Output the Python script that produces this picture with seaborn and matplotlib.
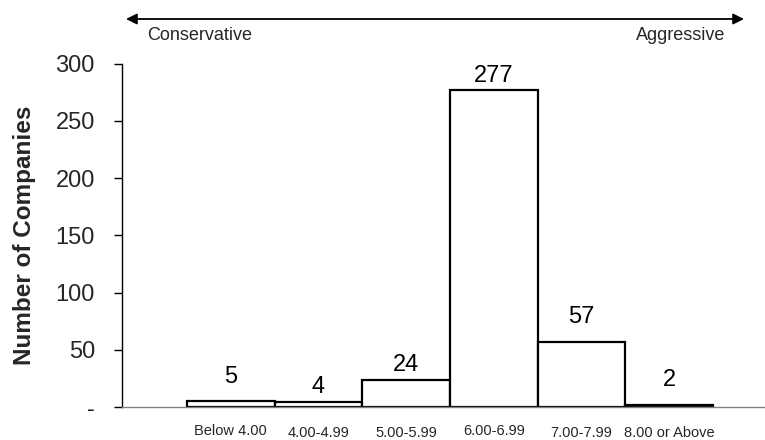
import matplotlib
matplotlib.use("Agg")
import matplotlib.pyplot as plt
from matplotlib.transforms import ScaledTranslation
from matplotlib.ticker import FixedLocator, FixedFormatter
import seaborn as sns
import pandas as pd

# Distribution of companies by assumed return bucket
categories = ["Below 4.00", "4.00-4.99", "5.00-5.99", "6.00-6.99", "7.00-7.99", "8.00 or Above"]
companies = [5, 4, 24, 277, 57, 2]
ytick_values = [0, 50, 100, 150, 200, 250, 300]
ytick_labels = ["-", "50", "100", "150", "200", "250", "300"]

# label placement above each bar (pixels) and per-category label drop (pixels)
value_label_gap = [24, 15, 15, 14, 25, 25]
xlabel_drop = [0, 2, 2, 0, 2, 2]

sns.set_style("white")
plt.rcParams["font.family"] = ["Liberation Sans", "DejaVu Sans"]

DPI = 100
W, H = 765, 440
fig = plt.figure(figsize=(W / DPI, H / DPI), dpi=DPI)
ax = fig.add_axes([122 / W, 1 - 407 / H, (W - 122) / W, (407 - 63.6) / H])

df = pd.DataFrame({"bucket": categories, "count": companies})
sns.barplot(data=df, x="bucket", y="count", order=categories, color="white",
            saturation=1, edgecolor="black", linewidth=1.6, width=1.0, ax=ax)

ax.set_ylim(0, 300)
ax.set_xlim(-1.241, 6.093)

# value labels
for patch, val, gap in zip(ax.patches, companies, value_label_gap):
    cx = patch.get_x() + patch.get_width() / 2
    ax.annotate(f"{val}", xy=(cx, patch.get_height()), xytext=(0, gap),
                textcoords="offset pixels", ha="center", va="center",
                fontsize=17, color="black")

# axes styling
for side in ("top", "right"):
    ax.spines[side].set_visible(False)
ax.spines["left"].set_color("black")
ax.spines["left"].set_linewidth(1.0)
ax.spines["bottom"].set_color("#808080")
ax.spines["bottom"].set_linewidth(1.0)

ax.yaxis.set_major_locator(FixedLocator(ytick_values))
ax.yaxis.set_major_formatter(FixedFormatter(ytick_labels))
ax.tick_params(axis="y", direction="out", length=6, width=1.0, color="black",
               labelsize=17, pad=13.5, left=True)
ax.tick_params(axis="x", length=0, labelsize=10.5, pad=12.5)
ax.set_xlabel("")
ax.set_ylabel("Number of Companies", fontsize=17.5, fontweight="bold", labelpad=14)

for lbl, drop in zip(ax.get_xticklabels(), xlabel_drop):
    lbl.set_transform(lbl.get_transform() + ScaledTranslation(0, -drop / DPI, fig.dpi_scale_trans))

# scale arrow across the top
ax.annotate("", xy=(126 / W, 1 - 19 / H), xytext=(744 / W, 1 - 19 / H),
            xycoords="figure fraction", textcoords="figure fraction",
            arrowprops=dict(arrowstyle="<|-|>", color="black", lw=1.3,
                            mutation_scale=16, shrinkA=0, shrinkB=0))
fig.text(147 / W, 1 - 35 / H, "Conservative", ha="left", va="center", fontsize=13)
fig.text(725 / W, 1 - 35 / H, "Aggressive", ha="right", va="center", fontsize=13)

fig.savefig("out.png", dpi=DPI)
